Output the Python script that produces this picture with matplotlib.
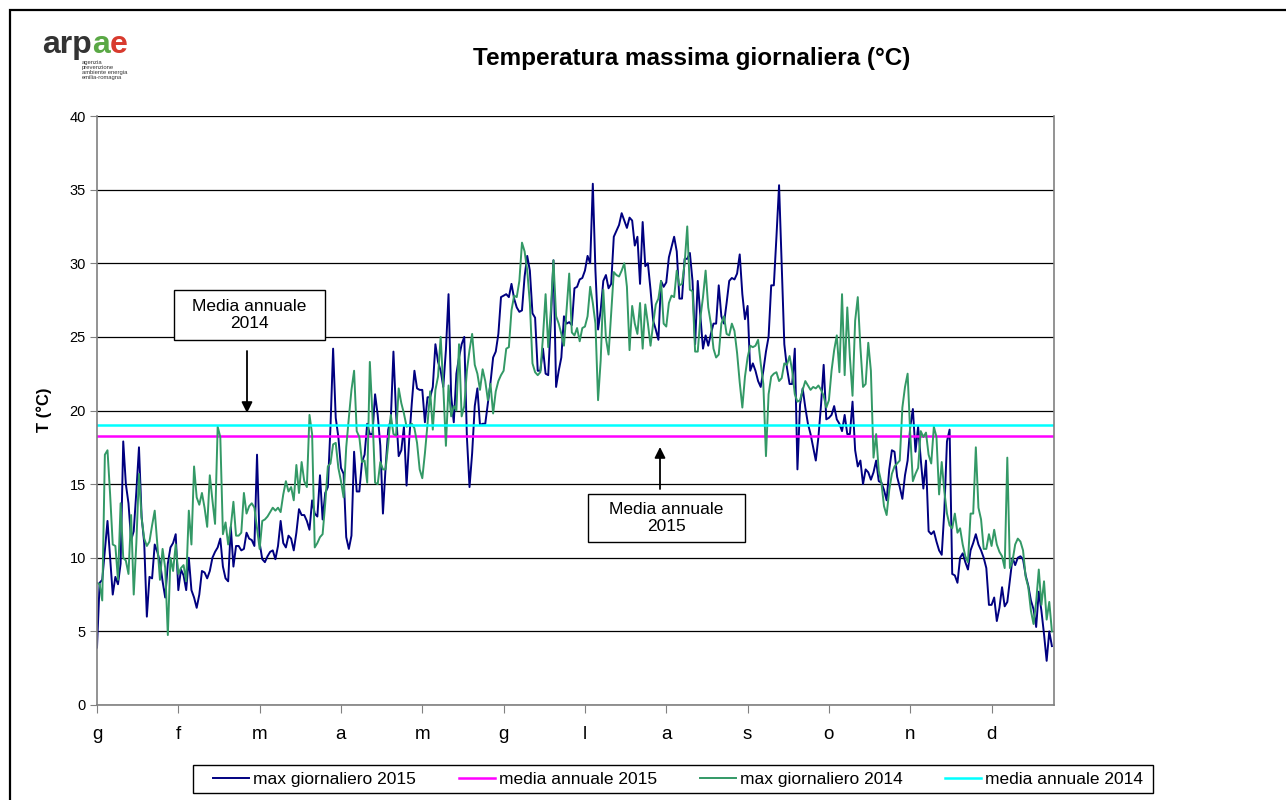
import matplotlib.pyplot as plt
from matplotlib.patches import Rectangle, FancyArrowPatch
import numpy as np

plt.rcParams['font.family'] = ['Liberation Sans', 'DejaVu Sans']

# --- DATA ---
MONTHS = ['g', 'f', 'm', 'a', 'm', 'g', 'l', 'a', 's', 'o', 'n', 'd']
MONTH_STEP = 31
MEDIA_2015 = 18.3
MEDIA_2014 = 19.0

MAX_2015 = [
    3.9, 8.3, 8.5, 10.5, 12.5, 10.0, 7.5, 8.7, 8.2, 9.6,
    17.9, 15.0, 13.7, 11.2, 11.8, 14.5, 17.5, 12.8, 11.0, 6.0,
    8.7, 8.6, 10.9, 10.4, 9.7, 8.4, 7.3, 9.6, 10.7, 11.0,
    11.6, 7.8, 9.2, 8.8, 7.8, 10.0, 7.8, 7.3, 6.6, 7.5,
    9.1, 9.0, 8.6, 9.1, 10.0, 10.4, 10.7, 11.3, 9.4, 8.6,
    8.4, 12.1, 9.4, 10.8, 10.8, 10.5, 10.6, 11.7, 11.3, 11.2,
    10.8, 17.0, 11.0, 9.9, 9.7, 10.1, 10.4, 10.5, 9.9, 10.8,
    12.5, 11.0, 10.7, 11.5, 11.3, 10.5, 11.7, 13.3, 12.9, 12.9,
    12.5, 11.9, 13.9, 13.0, 12.8, 15.6, 12.6, 14.4, 14.8, 18.9,
    24.2, 19.5, 18.2, 16.1, 15.7, 11.4, 10.6, 11.5, 17.2, 14.5,
    14.5, 16.5, 17.0, 19.1, 18.4, 18.4, 21.1, 19.7, 17.6, 13.0,
    16.1, 18.7, 19.4, 24.0, 19.8, 16.9, 17.3, 18.9, 14.9, 18.0,
    20.5, 22.7, 21.5, 21.4, 21.4, 19.2, 20.9, 20.9, 21.6, 24.5,
    23.3, 22.7, 21.6, 24.1, 27.9, 21.0, 19.2, 22.5, 23.6, 24.5,
    25.0, 18.2, 14.8, 17.1, 20.3, 21.5, 19.0, 19.1, 19.1, 20.5,
    21.9, 23.6, 24.0, 25.2, 27.7, 27.8, 27.9, 27.7, 28.6, 27.6,
    27.0, 26.7, 26.8, 29.1, 30.5, 29.5, 26.6, 26.3, 22.7, 22.7,
    24.2, 22.5, 22.4, 26.1, 30.2, 21.6, 22.7, 23.6, 26.4, 25.9,
    26.0, 25.8, 28.3, 28.4, 28.9, 29.0, 29.5, 30.5, 30.0, 35.4,
    29.5, 25.5, 26.8, 28.8, 29.2, 28.3, 28.6, 31.8, 32.2, 32.6,
    33.4, 32.9, 32.4, 33.1, 32.9, 31.2, 31.8, 28.6, 32.8, 29.8,
    30.0, 28.2, 26.1, 25.5, 24.8, 28.8, 28.4, 28.7, 30.4, 31.1,
    31.8, 30.8, 27.6, 27.6, 30.3, 30.3, 30.7, 28.8, 24.5, 28.8,
    26.4, 24.2, 25.1, 24.4, 25.2, 25.9, 25.9, 28.5, 26.4, 25.9,
    27.3, 28.8, 29.0, 28.9, 29.3, 30.6, 27.9, 26.2, 27.1, 22.7,
    23.2, 22.7, 22.0, 21.6, 22.7, 24.0, 25.0, 28.5, 28.5, 31.8,
    35.3, 30.0, 24.5, 22.9, 21.8, 21.8, 24.2, 16.0, 20.4, 21.5,
    20.2, 19.1, 18.4, 17.5, 16.6, 18.2, 20.4, 23.1, 19.4, 19.5,
    19.7, 20.3, 19.4, 19.1, 18.6, 19.7, 18.4, 18.4, 20.6, 17.3,
    16.2, 16.6, 15.0, 16.0, 15.8, 15.3, 15.8, 16.6, 15.2, 15.1,
    14.6, 13.9, 16.0, 17.3, 17.2, 15.5, 14.8, 14.0, 15.6, 16.6,
    18.9, 20.1, 17.2, 18.9, 16.7, 14.7, 16.6, 11.8, 11.6, 11.8,
    11.1, 10.5, 10.2, 13.2, 17.9, 18.7, 8.9, 8.8, 8.3, 10.0,
    10.3, 9.7, 9.2, 10.5, 11.0, 11.6, 10.9, 10.5, 10.0, 9.3,
    6.8, 6.8, 7.3, 5.7, 6.6, 8.0, 6.7, 7.0, 8.5, 10.0,
    9.5, 10.0, 10.1, 9.9, 8.8, 8.1, 7.1, 6.5, 5.3, 7.7,
    6.4, 4.8, 3.0, 5.0, 4.0,
]

MAX_2014 = [
    8.3, 8.2, 7.1, 17.0, 17.3, 14.3, 10.9, 10.8, 8.5, 13.7,
    10.0, 9.8, 8.9, 12.9, 7.5, 11.0, 15.7, 12.7, 11.3, 10.8,
    11.1, 12.2, 13.2, 10.9, 8.5, 10.6, 9.3, 4.75, 10.0, 9.1,
    10.9, 8.9, 9.3, 9.5, 8.4, 13.2, 10.9, 16.2, 14.1, 13.6,
    14.4, 13.4, 12.1, 15.6, 13.9, 12.3, 18.9, 18.2, 11.6, 12.4,
    10.9, 12.1, 13.8, 11.5, 11.5, 11.7, 14.4, 13.0, 13.5, 13.7,
    13.4, 12.0, 10.6, 12.5, 12.6, 12.8, 13.1, 13.4, 13.2, 13.4,
    13.1, 14.3, 15.2, 14.5, 14.8, 13.9, 16.3, 14.4, 16.5, 15.2,
    14.8, 19.7, 18.4, 10.7, 11.0, 11.4, 11.6, 13.7, 16.2, 16.4,
    17.7, 17.8, 16.1, 15.2, 14.1, 17.5, 19.5, 21.4, 22.7, 18.6,
    18.2, 16.5, 16.6, 15.1, 23.3, 19.7, 15.1, 15.0, 16.5, 16.0,
    16.0, 17.7, 19.7, 18.4, 18.3, 21.5, 20.5, 19.8, 18.9, 19.0,
    19.1, 18.8, 17.8, 16.0, 15.4, 17.1, 19.1, 21.3, 18.7, 21.4,
    22.3, 25.0, 21.6, 17.6, 21.7, 19.6, 20.3, 20.0, 24.5, 19.6,
    20.3, 22.7, 24.1, 25.2, 23.1, 22.5, 21.4, 22.8, 22.0, 20.7,
    21.8, 19.8, 21.3, 22.0, 22.4, 22.7, 24.2, 24.3, 26.8, 27.8,
    27.7, 28.8, 31.4, 30.8, 29.5, 27.3, 23.2, 22.6, 22.4, 22.6,
    25.0, 27.9, 24.3, 26.8, 30.2, 26.4, 25.9, 25.2, 24.4, 26.8,
    29.3, 25.3, 25.1, 25.6, 24.7, 25.6, 25.7, 26.4, 28.4, 27.3,
    25.9, 20.7, 23.4, 28.2, 24.9, 23.8, 26.6, 29.4, 29.2, 29.1,
    29.5, 30.0, 28.4, 24.1, 27.1, 25.9, 25.2, 27.3, 24.2, 27.2,
    25.9, 24.4, 25.9, 27.2, 27.6, 28.8, 25.9, 25.7, 27.3, 27.8,
    27.7, 29.5, 28.5, 28.6, 30.0, 32.5, 28.2, 28.1, 24.0, 24.0,
    26.3, 27.7, 29.5, 27.0, 25.9, 24.2, 23.6, 23.8, 25.9, 26.4,
    25.2, 25.1, 25.9, 25.4, 23.9, 21.9, 20.2, 22.3, 23.6, 24.4,
    24.3, 24.4, 24.8, 23.2, 21.8, 16.9, 21.1, 22.3, 22.5, 22.6,
    22.0, 22.2, 23.2, 23.1, 23.7, 22.7, 21.1, 20.6, 20.7, 21.4,
    22.0, 21.7, 21.4, 21.6, 21.5, 21.7, 21.4, 21.0, 20.2, 20.7,
    22.7, 24.1, 25.1, 22.6, 27.9, 22.4, 27.0, 23.6, 21.0, 26.1,
    27.7, 24.3, 21.6, 21.8, 24.6, 22.7, 16.8, 18.4, 15.9, 15.1,
    13.5, 12.9, 14.6, 15.7, 16.2, 16.4, 16.6, 20.2, 21.6, 22.5,
    18.4, 15.2, 15.7, 16.1, 18.6, 18.2, 18.5, 17.0, 16.4, 18.9,
    18.2, 14.3, 16.5, 14.5, 13.0, 12.2, 12.0, 13.0, 11.7, 12.0,
    10.9, 10.1, 9.7, 13.0, 13.0, 17.5, 13.4, 12.6, 10.6, 10.6,
    11.6, 10.8, 11.9, 10.9, 10.4, 10.1, 9.3, 16.8, 9.3, 9.8,
    10.9, 11.3, 11.1, 10.5, 8.7, 8.0, 6.4, 5.5, 7.0, 9.2,
    6.8, 8.4, 5.8, 7.0, 5.0,
]

# --- LAYOUT (pixels of the 1286x800 canvas) ---
W, H = 1286, 800


def fx(x):
    return x / W


def fy(y):
    return 1 - y / H


fig = plt.figure(figsize=(W / 100, H / 100), dpi=100)
ax = fig.add_axes([fx(97), fy(705), (1054 - 97) / W, (705 - 116) / H])

days = np.arange(len(MAX_2015))
ax.plot(days, MAX_2015, color='#000080', lw=1.4, label='max giornaliero 2015')
ax.axhline(MEDIA_2015, color='#ff00ff', lw=1.8, label='media annuale 2015')
ax.plot(np.arange(len(MAX_2014)), MAX_2014, color='#339966', lw=1.4,
        label='max giornaliero 2014')
ax.axhline(MEDIA_2014, color='#00ffff', lw=1.8, label='media annuale 2014')

ax.set_xlim(0, 364.8)
ax.set_ylim(0, 40)
ax.set_yticks(range(0, 41, 5))
ax.set_xticks([i * MONTH_STEP for i in range(len(MONTHS))])
ax.set_xticklabels(MONTHS)
ax.yaxis.grid(True, color='black', lw=0.9)
ax.set_axisbelow(True)

for side in ('left', 'bottom', 'right'):
    ax.spines[side].set_color('#808080')
    ax.spines[side].set_linewidth(1.2)
ax.spines['top'].set_visible(False)
ax.tick_params(axis='y', direction='out', length=5, color='#808080',
               labelsize=10.5, pad=3)
ax.tick_params(axis='x', direction='out', length=6, color='#808080',
               labelsize=13.5, pad=9)

# title, y label
fig.text(fx(692), fy(58), 'Temperatura massima giornaliera (°C)',
         ha='center', va='center', fontsize=17.5, weight='bold')
fig.text(fx(44), fy(410), 'T (°C)', rotation=90, ha='center', va='center',
         fontsize=12, weight='bold')

# legend: frame drawn separately so the inner padding can be wider than tall
fig.add_artist(Rectangle((fx(193), fy(793)), 960 / W, 28 / H,
                         transform=fig.transFigure, fill=False,
                         ec='black', lw=1.0))
fig.legend(loc='center left', bbox_to_anchor=(fx(213), fy(779)),
           ncol=4, fontsize=12.5, frameon=False, handlelength=2.07,
           handletextpad=0.25, columnspacing=2.45, borderpad=0,
           borderaxespad=0)


# annotation boxes with arrows
def note(x0, y0, x1, y1, text):
    fig.add_artist(Rectangle((fx(x0), fy(y1)), (x1 - x0) / W, (y1 - y0) / H,
                             transform=fig.transFigure, fill=True, fc='white',
                             ec='black', lw=1.0))
    fig.text(fx((x0 + x1) / 2), fy((y0 + y1) / 2), text, ha='center',
             va='center', fontsize=12.5, linespacing=1.12)


def arrow(x, ya, yb):
    fig.add_artist(FancyArrowPatch((fx(x), fy(ya)), (fx(x), fy(yb)),
                                   transform=fig.transFigure,
                                   arrowstyle='-|>', mutation_scale=16,
                                   color='black', lw=1.3, shrinkA=0, shrinkB=0))


note(174, 290, 325, 340, 'Media annuale\n2014')
arrow(247, 351, 413)
note(588, 494, 745, 542, 'Media annuale\n2015')
arrow(660, 489, 447)

# outer frame
fig.add_artist(Rectangle((fx(10), -0.2), 2, fy(10) + 0.2,
                         transform=fig.transFigure, fill=False,
                         ec='black', lw=1.6))

# logo
t1 = fig.text(fx(42), fy(53), 'arp', fontsize=23, weight='bold',
              color='#333333', va='baseline')
t2 = ax.annotate('a', xy=(1, 0), xycoords=t1, va='bottom', ha='left',
                 fontsize=23, weight='bold', color='#5aa845')
ax.annotate('e', xy=(1, 0), xycoords=t2, va='bottom', ha='left',
            fontsize=23, weight='bold', color='#d83a2e')
fig.text(fx(82), fy(60), 'agenzia\nprevenzione\nambiente energia\nemilia-romagna',
         fontsize=4.2, va='top', ha='left', linespacing=1.0, color='#333333')

fig.savefig('out.png', dpi=100)
